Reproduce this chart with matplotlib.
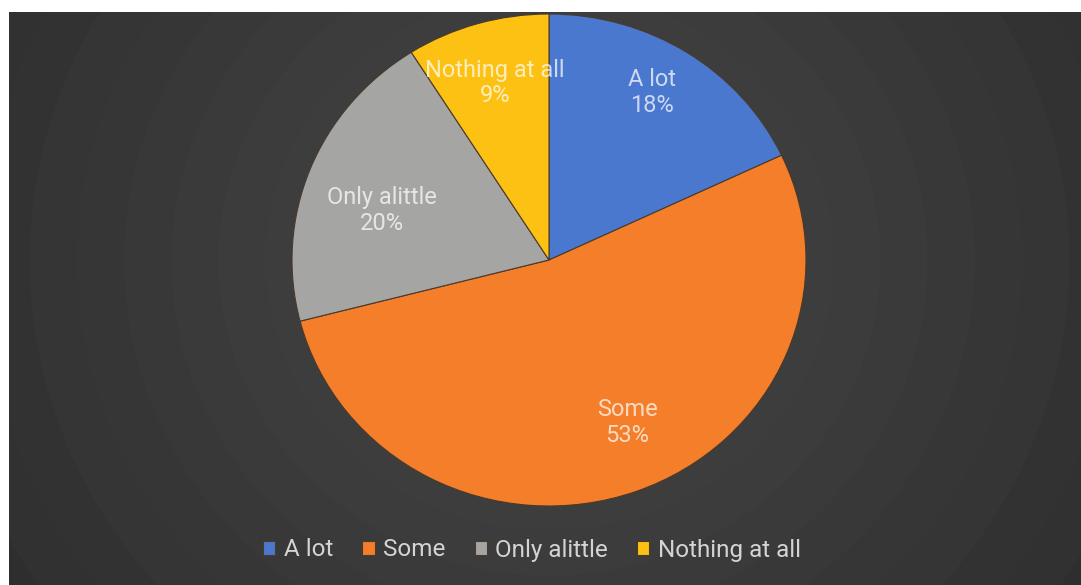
import numpy as np
import matplotlib.pyplot as plt

plt.rcParams['font.family'] = ['Roboto', 'DejaVu Sans']

labels = ['A lot', 'Some', 'Only alittle', 'Nothing at all']
shares = [18, 53, 20, 9]
colors = ['#4a78cf', '#f47e2a', '#a5a6a4', '#fdc113']

W, H = 1081, 585
fig = plt.figure(figsize=(W / 100, H / 100), dpi=100, facecolor='white')

# dark panel with banded radial glow behind the pie
bg = fig.add_axes([9 / W, 0, 1 - 9 / W, (H - 12) / H])
yy, xx = np.mgrid[12:H, 9:W]
r = np.hypot((xx - 549) / 1.05, yy - 260)
band = np.floor(r / 45)
val = 0.28 - 0.0075 * band + 0.003 * ((band % 2) == 0)
val = np.clip(val, 0.17, 0.3)
bg.imshow(np.dstack([val, val, val * 1.01]), aspect='auto', interpolation='bilinear')
bg.axis('off')

# pie axes sized to the (slightly wide) pie bounding box
cx, cy, rx, ry = 549, 260, 257, 246
ax = fig.add_axes([(cx - rx) / W, (H - cy - ry) / H, 2 * rx / W, 2 * ry / H])
wedges, _ = ax.pie(shares, colors=colors, startangle=90, counterclock=False,
                   wedgeprops=dict(edgecolor='#4a3a2a', linewidth=0.8))
ax.set_aspect('auto')
ax.set_xlim(-1, 1)
ax.set_ylim(-1, 1)

# label spots inside each wedge
label_pos = [(0.40, 0.68), (0.305, -0.66), (-0.65, 0.20), (-0.21, 0.72)]
for lab, val_, (x, y) in zip(labels, shares, label_pos):
    ax.text(x, y, f'{lab}\n{val_}%', ha='center', va='center', color='white',
            alpha=0.72, fontsize=17, linespacing=1.15)

fig.legend(wedges, labels, loc='center', bbox_to_anchor=(532 / W, 1 - 550 / H),
           ncol=4, frameon=False, fontsize=17.5, labelcolor='#d4d4d4',
           handlelength=0.5, handleheight=0.5, handletextpad=0.35,
           columnspacing=1.2)

fig.savefig('out.png', dpi=100, facecolor='white')
